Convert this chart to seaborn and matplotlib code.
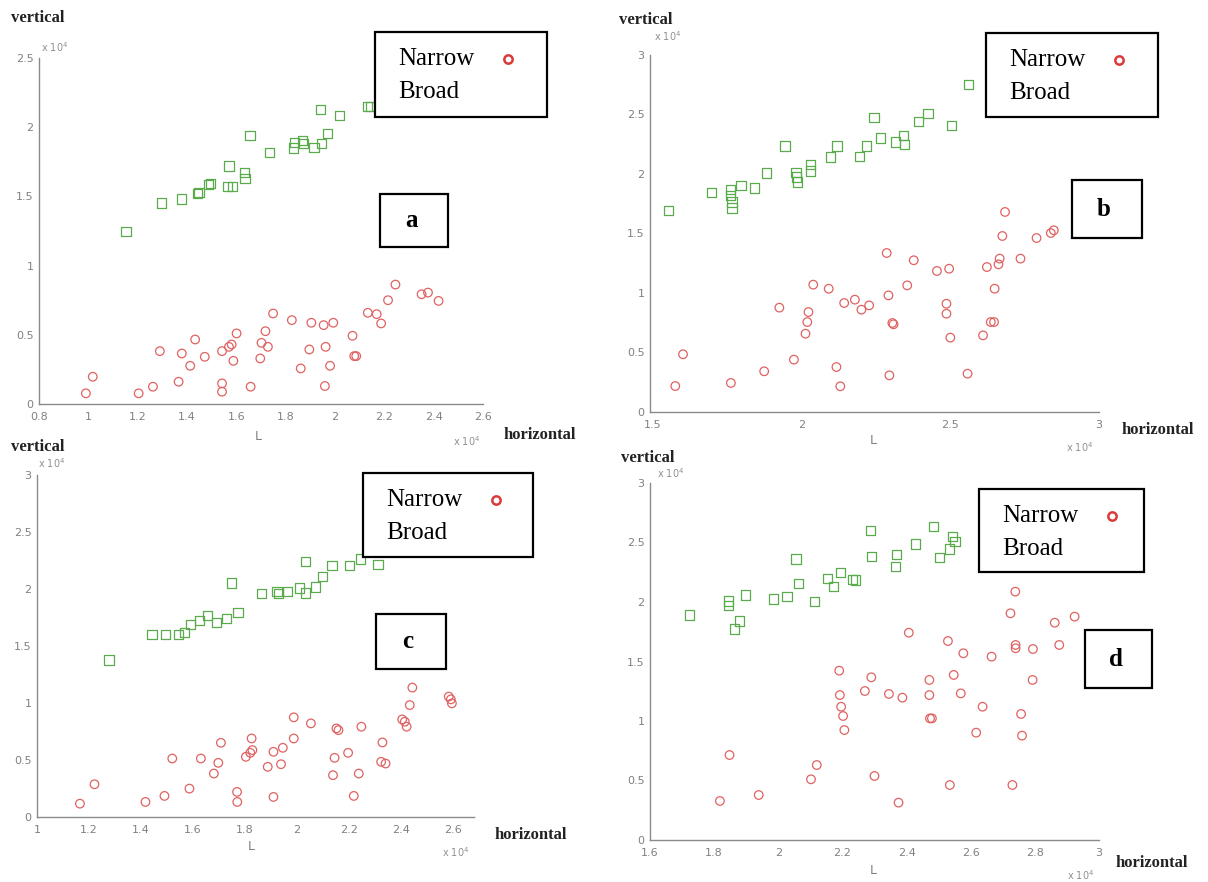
import matplotlib
matplotlib.use("Agg")
import matplotlib.pyplot as plt
import seaborn as sns
import pandas as pd
from matplotlib.patches import Rectangle
from matplotlib.lines import Line2D

# ---------------- data (values in units of 1e4) ----------------
a_broad_x = [1.153, 1.298, 1.377, 1.442, 1.449, 1.487, 1.495, 1.570, 1.564, 1.584, 1.632, 1.635, 1.655,
             1.736, 1.833, 1.837, 1.868, 1.873, 1.915, 1.946, 1.942, 1.970, 2.019, 2.133, 2.145]
a_broad_y = [1.248, 1.452, 1.481, 1.519, 1.531, 1.584, 1.596, 1.719, 1.572, 1.572, 1.675, 1.632, 1.940,
             1.815, 1.849, 1.892, 1.904, 1.880, 1.856, 1.880, 2.127, 1.957, 2.084, 2.149, 2.149]
a_narrow_x = [0.990, 1.018, 1.204, 1.262, 1.290, 1.366, 1.379, 1.413, 1.433, 1.472, 1.542, 1.542, 1.542,
              1.570, 1.581, 1.588, 1.601, 1.658, 1.697, 1.702, 1.718, 1.728, 1.749, 1.825, 1.861, 1.896,
              1.904, 1.954, 1.962, 1.959, 1.980, 1.993, 2.071, 2.078, 2.086, 2.133, 2.169, 2.187, 2.215,
              2.245, 2.351, 2.377, 2.420]
a_narrow_y = [0.077, 0.197, 0.077, 0.125, 0.382, 0.161, 0.365, 0.276, 0.466, 0.341, 0.149, 0.089, 0.382,
              0.413, 0.430, 0.312, 0.510, 0.125, 0.329, 0.442, 0.526, 0.413, 0.654, 0.606, 0.257, 0.394,
              0.587, 0.570, 0.413, 0.130, 0.276, 0.587, 0.493, 0.346, 0.346, 0.659, 0.649, 0.582, 0.750,
              0.863, 0.793, 0.805, 0.745]

b_broad_x = [1.552, 1.696, 1.762, 1.762, 1.766, 1.766, 1.796, 1.842, 1.883, 1.944, 1.981, 1.984, 1.987,
             2.030, 2.030, 2.097, 2.119, 2.195, 2.217, 2.243, 2.266, 2.316, 2.342, 2.347, 2.394, 2.425,
             2.503, 2.561]
b_broad_y = [1.695, 1.843, 1.871, 1.821, 1.765, 1.714, 1.905, 1.882, 2.008, 2.235, 2.011, 1.975, 1.933,
             2.078, 2.025, 2.143, 2.235, 2.148, 2.235, 2.473, 2.303, 2.269, 2.325, 2.249, 2.443, 2.507,
             2.409, 2.751]
b_narrow_x = [1.575, 1.601, 1.762, 1.874, 1.925, 1.974, 2.013, 2.019, 2.023, 2.039, 2.091, 2.117, 2.130,
              2.143, 2.179, 2.201, 2.227, 2.286, 2.292, 2.295, 2.305, 2.309, 2.355, 2.377, 2.455, 2.496,
              2.487, 2.487, 2.500, 2.558, 2.610, 2.623, 2.636, 2.647, 2.649, 2.662, 2.666, 2.675, 2.684,
              2.736, 2.790, 2.838, 2.848]
b_narrow_y = [0.218, 0.485, 0.244, 0.342, 0.877, 0.440, 0.658, 0.756, 0.840, 1.070, 1.036, 0.378, 0.216,
              0.916, 0.944, 0.860, 0.896, 1.336, 0.980, 0.308, 0.748, 0.737, 1.064, 1.275, 1.185, 1.204,
              0.910, 0.826, 0.625, 0.322, 0.644, 1.218, 0.756, 0.756, 1.036, 1.241, 1.289, 1.479, 1.681,
              1.289, 1.462, 1.504, 1.527]

c_broad_x = [1.277, 1.442, 1.493, 1.545, 1.567, 1.589, 1.626, 1.655, 1.689, 1.729, 1.773, 1.748, 1.862,
             1.923, 1.928, 1.962, 2.009, 2.031, 2.031, 2.071, 2.097, 2.134, 2.200, 2.244, 2.311]
c_broad_y = [1.378, 1.598, 1.598, 1.598, 1.619, 1.692, 1.724, 1.768, 1.707, 1.739, 1.795, 2.053, 1.959,
             1.979, 1.959, 1.979, 2.009, 2.243, 1.965, 2.018, 2.111, 2.205, 2.205, 2.264, 2.214]
c_narrow_x = [1.165, 1.221, 1.417, 1.490, 1.520, 1.586, 1.630, 1.680, 1.697, 1.707, 1.769, 1.770, 1.803,
              1.820, 1.825, 1.828, 1.887, 1.909, 1.909, 1.938, 1.945, 1.987, 1.987, 2.053, 2.138, 2.144,
              2.151, 2.159, 2.196, 2.218, 2.237, 2.247, 2.323, 2.328, 2.340, 2.404, 2.414, 2.421, 2.433,
              2.443, 2.583, 2.591, 2.595]
c_narrow_y = [0.117, 0.287, 0.132, 0.185, 0.513, 0.249, 0.513, 0.381, 0.475, 0.651, 0.220, 0.132, 0.528,
              0.563, 0.689, 0.587, 0.440, 0.572, 0.176, 0.463, 0.607, 0.689, 0.874, 0.821, 0.367, 0.519,
              0.777, 0.762, 0.563, 0.185, 0.381, 0.792, 0.484, 0.654, 0.469, 0.856, 0.836, 0.792, 0.982,
              1.135, 1.056, 1.032, 0.997]

d_broad_x = [1.722, 1.845, 1.845, 1.863, 1.879, 1.899, 1.985, 2.027, 2.055, 2.064, 2.114, 2.153, 2.171,
             2.194, 2.232, 2.240, 2.288, 2.290, 2.366, 2.368, 2.428, 2.483, 2.503, 2.535, 2.543, 2.551]
d_broad_y = [1.891, 2.008, 1.969, 1.773, 1.840, 2.059, 2.025, 2.045, 2.361, 2.157, 2.003, 2.199, 2.129,
             2.249, 2.190, 2.185, 2.599, 2.381, 2.297, 2.401, 2.487, 2.633, 2.375, 2.445, 2.549, 2.507]
d_narrow_x = [1.818, 1.848, 1.939, 2.102, 2.120, 2.190, 2.192, 2.196, 2.202, 2.206, 2.270, 2.290, 2.300,
              2.345, 2.375, 2.387, 2.407, 2.471, 2.471, 2.473, 2.479, 2.529, 2.535, 2.547, 2.569, 2.577,
              2.617, 2.637, 2.665, 2.724, 2.730, 2.739, 2.740, 2.740, 2.757, 2.760, 2.793, 2.794, 2.862,
              2.876, 2.924]
d_narrow_y = [0.328, 0.714, 0.378, 0.510, 0.630, 1.423, 1.218, 1.120, 1.042, 0.924, 1.252, 1.367, 0.538,
              1.227, 0.314, 1.196, 1.742, 1.345, 1.218, 1.022, 1.022, 1.672, 0.462, 1.387, 1.232, 1.569,
              0.902, 1.120, 1.541, 1.905, 0.462, 2.087, 1.639, 1.611, 1.059, 0.877, 1.345, 1.605, 1.826,
              1.639, 1.877]

# tick labels
a_xticklabels = ["0.8", "1", "1.2", "1.4", "1.6", "1.8", "2", "2.2", "2.4", "2.6"]
a_yticklabels = ["0", "0.5", "1", "1.5", "2", "2.5"]
b_xticklabels = ["1.5", "2", "2.5", "3"]
b_yticklabels = ["0", "0.5", "1", "1.5", "2", "2.5", "3"]
c_xticklabels = ["1", "1.2", "1.4", "1.6", "1.8", "2", "2.2", "2.4", "2.6"]
c_yticklabels = ["0", "0.5", "1", "1.5", "2", "2.5", "3"]
d_xticklabels = ["1.6", "1.8", "2", "2.2", "2.4", "2.6", "2.8", "3"]
d_yticklabels = ["0", "0.5", "1", "1.5", "2", "2.5", "3"]

legend_labels = ["Narrow", "Broad"]
panel_letters = ["a", "b", "c", "d"]

# ---------------- styling ----------------
sns.set_theme(style="white")
plt.rcParams['font.family'] = ['DejaVu Sans']

GREEN = "#5aab4b"
RED = "#e06262"
GRAY = "#8a8a8a"
SERIF = "Liberation Serif"

W, H = 1208, 882
fig = plt.figure(figsize=(W / 100, H / 100), dpi=100)
fig.patch.set_facecolor("white")


def fx(px):
    return px / W


def fy(py):
    return 1 - py / H


panels = [
    dict(rect=(39, 483, 58, 404), xlim=(0.8, 2.6), ylim=(0, 2.5),
         xl=a_xticklabels, yl=a_yticklabels,
         bx=a_broad_x, by=a_broad_y, nx=a_narrow_x, ny=a_narrow_y,
         leg=(375, 32, 547, 117), box=(380, 194, 448, 247),
         vert=(38, 18), topexp=(41, 47), L=(258, 437), botexp=(467, 441), hor=(540, 435)),
    dict(rect=(650, 1099, 55, 412), xlim=(1.49, 3.0), ylim=(0, 3.0),
         xl=b_xticklabels, yl=b_yticklabels,
         bx=b_broad_x, by=b_broad_y, nx=b_narrow_x, ny=b_narrow_y,
         leg=(986, 33, 1158, 117), box=(1072, 180, 1142, 238),
         vert=(646, 20), topexp=(654, 36), L=(873, 440), botexp=(1080, 447), hor=(1158, 430)),
    dict(rect=(37, 474, 475, 817), xlim=(1.0, 2.68), ylim=(0, 3.0),
         xl=c_xticklabels, yl=c_yticklabels,
         bx=c_broad_x, by=c_broad_y, nx=c_narrow_x, ny=c_narrow_y,
         leg=(363, 473, 533, 557), box=(376, 614, 446, 669),
         vert=(38, 447), topexp=(38, 463), L=(251, 847), botexp=(456, 852), hor=(531, 835)),
    dict(rect=(650, 1099, 483, 840), xlim=(1.6, 3.0), ylim=(0, 3.0),
         xl=d_xticklabels, yl=d_yticklabels,
         bx=d_broad_x, by=d_broad_y, nx=d_narrow_x, ny=d_narrow_y,
         leg=(979, 489, 1144, 572), box=(1085, 630, 1152, 688),
         vert=(648, 458), topexp=(657, 473), L=(873, 870), botexp=(1081, 875), hor=(1152, 863)),
]

for letter, p in zip(panel_letters, panels):
    x0, x1, yt, yb = p["rect"]
    ax = fig.add_axes([fx(x0), fy(yb), (x1 - x0) / W, (yb - yt) / H])
    ax.set_facecolor("none")

    broad = pd.DataFrame({"x": p["bx"], "y": p["by"]})
    narrow = pd.DataFrame({"x": p["nx"], "y": p["ny"]})
    sns.scatterplot(data=broad, x="x", y="y", ax=ax, marker="s", s=44, color=GREEN,
                    facecolors="none", edgecolor=GREEN, linewidth=0.9, legend=False, zorder=3)
    sns.scatterplot(data=narrow, x="x", y="y", ax=ax, marker="o", s=38, color=RED,
                    facecolors="none", edgecolor=RED, linewidth=0.9, legend=False, zorder=3)

    ax.set_xlim(*p["xlim"])
    ax.set_ylim(*p["ylim"])
    ax.set_xticks([float(t) for t in p["xl"]])
    ax.set_xticklabels(p["xl"])
    ax.set_yticks([float(t) for t in p["yl"]])
    ax.set_yticklabels(p["yl"])
    ax.set_xlabel("")
    ax.set_ylabel("")
    for s in ["top", "right"]:
        ax.spines[s].set_visible(False)
    for s in ["left", "bottom"]:
        ax.spines[s].set_color(GRAY)
        ax.spines[s].set_linewidth(1.0)
    ax.tick_params(axis="both", direction="in", length=4, width=0.8, color=GRAY,
                   labelcolor="#808080", labelsize=8)
    ax.tick_params(axis="x", pad=6)
    ax.tick_params(axis="y", pad=4)
    ax.grid(False)

    # axis texts
    fig.text(fx(p["vert"][0]), fy(p["vert"][1]), "vertical", family=SERIF, weight="bold",
             size=12, ha="center", va="center", color="#222222")
    fig.text(fx(p["hor"][0]), fy(p["hor"][1]), "horizontal", family=SERIF, weight="bold",
             size=12, ha="center", va="center", color="#222222")
    fig.text(fx(p["topexp"][0]), fy(p["topexp"][1]), r"x 10$^4$", size=7, ha="left",
             va="center", color="#909090")
    fig.text(fx(p["botexp"][0]), fy(p["botexp"][1]), r"x 10$^4$", size=7, ha="center",
             va="center", color="#909090")
    fig.text(fx(p["L"][0]), fy(p["L"][1]), "L", size=9, ha="center", va="center", color="#808080")

    # legend box
    lx0, ly0, lx1, ly1 = p["leg"]
    fig.add_artist(Rectangle((fx(lx0), fy(ly1)), (lx1 - lx0) / W, (ly1 - ly0) / H,
                             transform=fig.transFigure, facecolor="white", edgecolor="black",
                             linewidth=1.6, zorder=5))
    fig.text(fx(lx0 + 23), fy(ly0 + 27), legend_labels[0], family=SERIF, size=18,
             ha="left", va="center", color="black", zorder=6)
    fig.text(fx(lx0 + 23), fy(ly0 + 60), legend_labels[1], family=SERIF, size=18,
             ha="left", va="center", color="black", zorder=6)
    fig.add_artist(Line2D([fx(lx0 + 133)], [fy(ly0 + 27)], marker="o", markersize=6,
                          markerfacecolor="none", markeredgecolor="#d93a3a",
                          markeredgewidth=1.8, linestyle="none",
                          transform=fig.transFigure, zorder=6))

    # letter box
    bx0, by0, bx1, by1 = p["box"]
    fig.add_artist(Rectangle((fx(bx0), fy(by1)), (bx1 - bx0) / W, (by1 - by0) / H,
                             transform=fig.transFigure, facecolor="white", edgecolor="black",
                             linewidth=1.6, zorder=5))
    fig.text(fx((bx0 + bx1) / 2 - 3), fy((by0 + by1) / 2), letter, family=SERIF, weight="bold",
             size=18, ha="center", va="center", color="black", zorder=6)

fig.savefig("out.png", dpi=100, facecolor="white")
